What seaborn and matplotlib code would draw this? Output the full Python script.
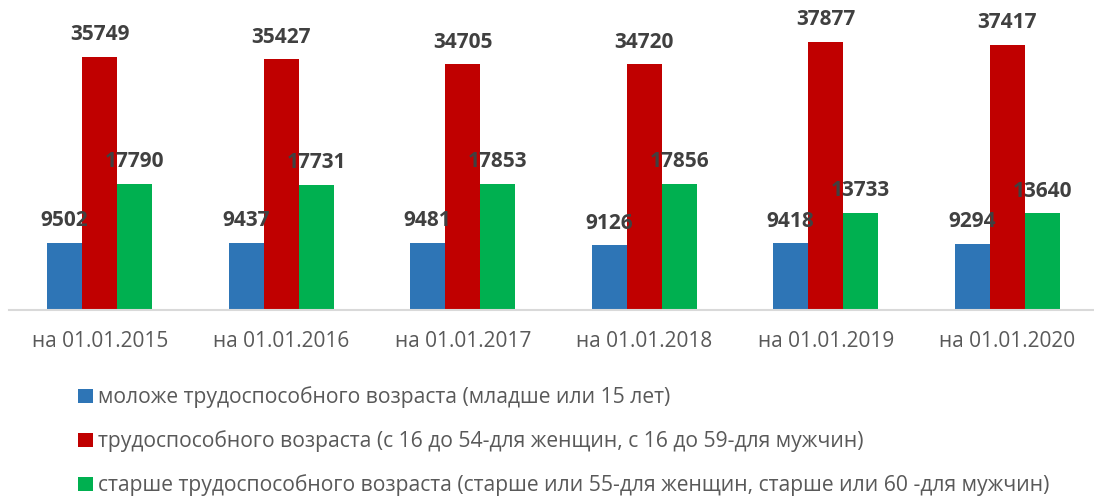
import matplotlib
matplotlib.use("Agg")
import matplotlib.pyplot as plt
import seaborn as sns
import pandas as pd
from matplotlib.patches import Patch

categories = ["на 01.01.2015", "на 01.01.2016", "на 01.01.2017",
              "на 01.01.2018", "на 01.01.2019", "на 01.01.2020"]
series_names = [
    "моложе трудоспособного возраста (младше или 15 лет)",
    "трудоспособного возраста (с 16 до 54-для женщин, с 16 до 59-для мужчин)",
    "старше трудоспособного возраста (старше или 55-для женщин, старше или 60 -для мужчин)",
]
young = [9502, 9437, 9481, 9126, 9418, 9294]
working = [35749, 35427, 34705, 34720, 37877, 37417]
old = [17790, 17731, 17853, 17856, 13733, 13640]
colors = ["#2E75B6", "#C00000", "#00B050"]

rows = []
for s, vals in zip(series_names, [young, working, old]):
    for c, v in zip(categories, vals):
        rows.append({"cat": c, "series": s, "value": v})
df = pd.DataFrame(rows)

sns.set_theme(style="white")
plt.rcParams['font.family'] = ['Open Sans', 'DejaVu Sans']

fig = plt.figure(figsize=(10.94, 4.97), dpi=100)
ax = fig.add_axes([9/1094, (497-310)/497, 1089/1094, 283/497])
sns.barplot(data=df, x="cat", y="value", hue="series", palette=colors,
            width=0.58, gap=0, ax=ax, legend=False, saturation=1,
            order=categories, hue_order=series_names, linewidth=0, edgecolor="none")
ax.set_ylim(0, 40000)
ax.set_xlim(-0.5, 5.5)
for cont in ax.containers:
    ax.bar_label(cont, padding=8.5, fontsize=15, fontweight="bold", color="#404040")
ax.set_xlabel("")
ax.set_ylabel("")
ax.set_yticks([])
for sp in ["top", "right", "left"]:
    ax.spines[sp].set_visible(False)
ax.spines["bottom"].set_color("#D9D9D9")
ax.spines["bottom"].set_linewidth(1.5)
ax.tick_params(axis="x", length=0, pad=15, labelsize=15, labelcolor="#595959")

handles = [Patch(facecolor=c, edgecolor="none") for c in colors]
fig.legend(handles, series_names, loc="upper left", bbox_to_anchor=(70/1094, 1-378/497),
           frameon=False, fontsize=15.2, labelcolor="#595959", handlelength=0.67,
           handleheight=0.67, handletextpad=0.25, labelspacing=1.05, borderaxespad=0)

fig.savefig("out.png", dpi=100)
